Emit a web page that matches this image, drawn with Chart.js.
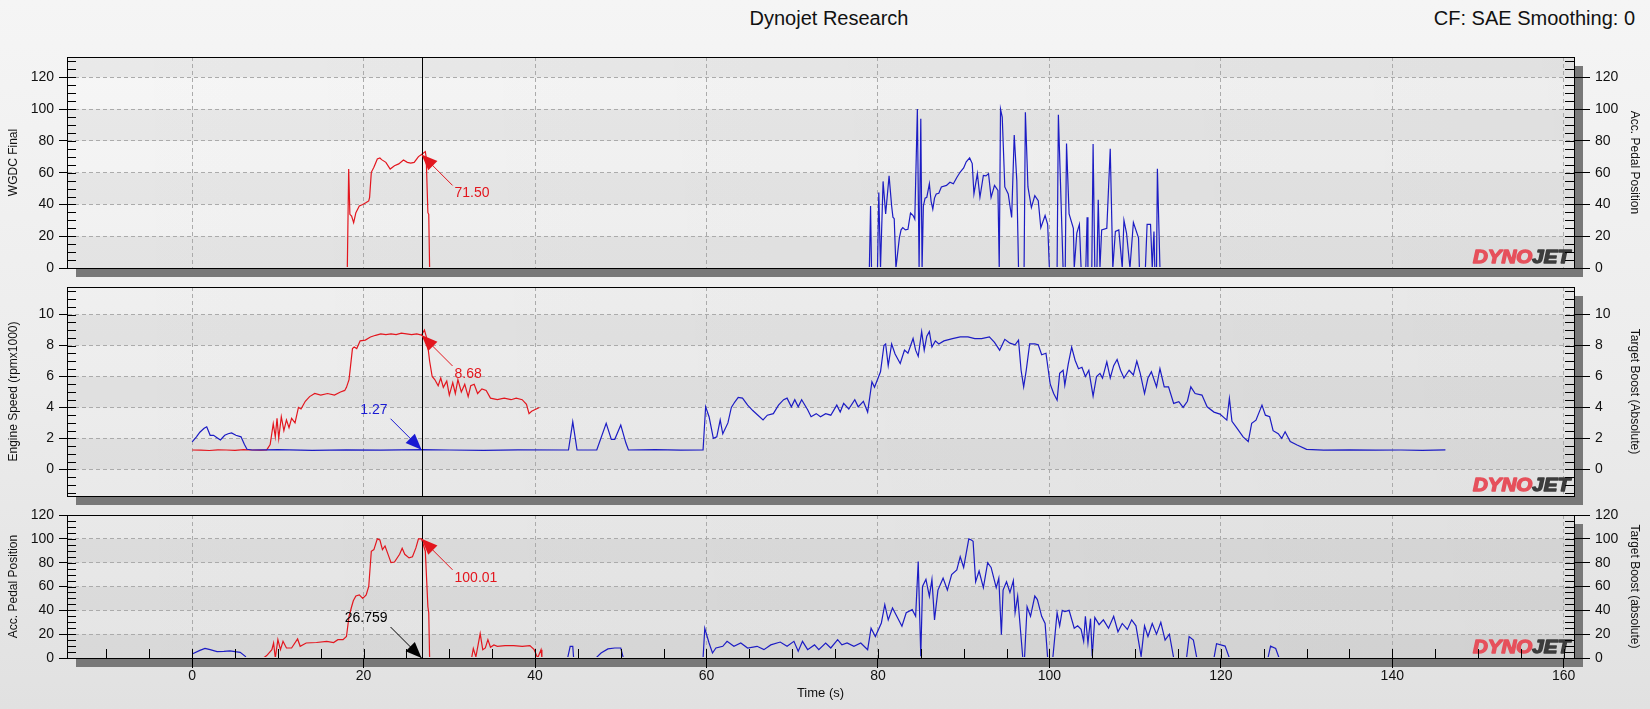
<!DOCTYPE html>
<html>
<head>
<meta charset="utf-8">
<title>Dynojet Research</title>
<script src="https://cdn.jsdelivr.net/npm/chart.js@4.4.1/dist/chart.umd.min.js"></script>
<style>
  html, body { margin: 0; padding: 0; }
  body {
    width: 1650px; height: 709px; overflow: hidden; position: relative;
    background: linear-gradient(to bottom, #f5f5f5 0%, #ececec 55%, #e1e1e1 100%);
    font-family: "Liberation Sans", Arial, sans-serif; color: #111;
  }
  .panel { position: absolute; left: 0; width: 1650px; }
  canvas { display: block; }
  #title { position: absolute; top: 6px; left: 0; width: 1658px; text-align: center; font-size: 20px; line-height: 24px; }
  #cf { position: absolute; top: 6px; right: 15px; font-size: 20px; line-height: 24px; }
</style>
</head>
<body>
<div id="title">Dynojet Research</div>
<div id="cf">CF: SAE Smoothing: 0</div>
<div class="panel" style="top:42px"><canvas id="p1" width="1650" height="241"></canvas></div>
<div class="panel" style="top:272px"><canvas id="p2" width="1650" height="239"></canvas></div>
<div class="panel" style="top:500px"><canvas id="p3" width="1650" height="209"></canvas></div>

<script>
/* DATA */
const cursorT = 26.759;
const xTicks = [0, 20, 40, 60, 80, 100, 120, 140, 160];
const wgdcTicks = [0, 20, 40, 60, 80, 100, 120];
const rpmTicks = [0, 2, 4, 6, 8, 10];
const pedalTicks = [0, 20, 40, 60, 80, 100, 120];

// cursor readouts
const cursorWgdc = 71.50;
const cursorRpm = 8.68;
const cursorBoost = 1.27;
const cursorPedal = 100.01;

// panel 1, red: WGDC Final  [time, value]
const wgdc = [[18.1,0],[18.26,62.3],[18.4,33.8],[18.6,32.7],[18.84,28.5],[19.1,34.8],[19.5,39],[19.9,40],
  [20.3,41.2],[20.6,42.2],[20.7,44.4],[20.9,60.2],[21.2,63.4],[21.6,68.6],[21.9,69.2],[22.1,68.2],[22.6,66.5],
  [23.1,62.3],[23.6,64.4],[24.1,65.5],[24.65,68],[25.1,66.5],[25.5,66],[25.9,66.5],[26.4,70.1],[26.76,71.5],
  [27.2,73.3],[27.3,69.7],[27.5,34.8],[27.6,33.8],[27.7,0]];

// panel 1, blue: Acc. Pedal Position
const pedalTop = [[79.0,0],[79.14,39],[79.25,0],[79.95,0],[80.1,47.5],[80.3,0],[80.6,54.5],[80.9,34],[81.3,58],
  [81.6,39],[81.75,32],[81.9,31],[82.1,0],[82.5,19],[82.7,24],[82.9,25.4],[83.2,24],[83.5,24.4],[83.8,34.6],
  [84.1,33],[84.3,30.7],[84.6,100],[84.8,0],[85.0,94],[85.15,0],[85.3,39],[85.5,44],[85.7,44.5],[86.0,53],
  [86.2,42],[86.4,37],[86.6,44],[86.8,46.6],[87.1,47],[87.4,51],[88.0,52],[88.4,54],[88.8,53],[89.2,57],
  [89.6,60.4],[90.0,63],[90.3,66.8],[90.7,69.3],[91.0,65.7],[91.2,46.6],[91.6,59.4],[91.9,44.5],[92.3,58.3],
  [92.6,58],[92.9,59.4],[93.2,44.5],[93.6,52],[94.0,48.8],[94.15,0],[94.3,100],[94.5,95],[94.8,51],[95.2,46.6],
  [95.6,31.8],[95.9,83.7],[96.2,55],[96.4,0],[97.05,0],[97.2,98],[97.5,51],[97.9,38],[98.3,45.6],[98.7,42.4],
  [99.0,25.4],[99.5,33],[99.8,27.5],[100.0,0],[100.9,0],[101.05,96.5],[101.6,0],[101.85,0],[102.0,78.4],
  [102.3,34],[102.8,25],[102.9,0],[103.2,22],[103.5,27.5],[103.7,0],[104.25,0],[104.4,32],[104.5,0],[104.95,0],
  [105.1,78],[105.3,0],[105.55,0],[105.7,43],[105.9,0],[106.1,24],[106.7,25],[107.1,75],[107.4,0],[107.7,23],
  [108.1,24],[108.5,0],[108.7,30],[109.0,22],[109.4,0],[109.8,28.6],[110.4,19],[110.5,0],[111.2,0],[111.4,27.5],
  [111.8,27.5],[112.0,0],[112.2,23],[112.3,0],[112.5,0],[112.6,62.5],[112.9,0]];

// panel 2, red: Engine Speed (rpm x1000)
const rpm = [[0,1.25],[1,1.24],[2,1.22],[3,1.26],[4,1.25],[5,1.23],[6,1.27],[7,1.25],[8,1.24],[8.7,1.26],
  [9.1,1.6],[9.46,2.95],[9.7,2.1],[9.9,3.3],[10.1,2.0],[10.4,3.4],[10.7,2.5],[11.0,3.2],[11.3,2.7],[11.6,3.3],
  [12.0,3.0],[12.4,4.0],[12.7,3.9],[13.2,4.4],[13.7,4.7],[14.3,4.9],[15.0,4.8],[15.8,4.9],[16.6,4.8],[17.3,5.0],
  [17.8,5.1],[18.0,5.3],[18.3,5.8],[18.7,7.8],[18.9,7.9],[19.2,7.8],[19.6,8.3],[20.2,8.35],[20.8,8.55],
  [21.4,8.66],[22.0,8.75],[22.6,8.7],[23.2,8.75],[23.8,8.7],[24.4,8.8],[25.0,8.75],[25.6,8.7],[26.2,8.75],
  [26.76,8.68],[27.1,9.0],[27.4,8.4],[27.7,7.0],[28.0,6.0],[28.3,5.8],[28.7,5.4],[29.0,5.9],[29.3,5.3],
  [29.7,5.7],[30.0,4.8],[30.4,5.6],[30.7,4.9],[31.0,5.8],[31.4,5.0],[31.8,5.5],[32.2,4.7],[32.5,5.4],
  [32.9,5.5],[33.3,4.9],[33.8,5.2],[34.3,5.1],[34.8,4.6],[35.6,4.5],[36.4,4.6],[37.2,4.5],[37.8,4.6],
  [38.5,4.5],[39.0,4.2],[39.3,3.6],[39.6,3.75],[40.5,4.0]];

// panel 2, blue: Target Boost (Absolute)
const boostMid = [[0,1.78],[0.5,2.1],[0.9,2.4],[1.4,2.65],[1.7,2.75],[2.1,2.2],[2.5,2.2],[2.9,2.05],[3.3,1.9],
  [3.8,2.2],[4.2,2.3],[4.6,2.35],[5.1,2.2],[5.7,2.1],[6.1,1.6],[6.4,1.3],[7,1.25],[10,1.27],[14,1.23],[18,1.26],
  [22,1.24],[26.76,1.27],[30,1.25],[34,1.23],[38,1.26],[43.9,1.25],[44.4,3.07],[44.9,1.25],[47.2,1.25],
  [48.3,2.97],[48.9,1.94],[49.3,1.94],[50.0,2.86],[50.6,1.7],[50.9,1.25],[54,1.27],[57,1.24],[59.6,1.25],
  [59.9,4.04],[60.3,3.4],[60.8,2.0],[61.2,2.1],[61.6,3.2],[61.9,2.3],[62.5,3.0],[62.9,4.0],[63.3,4.35],
  [63.7,4.65],[64.2,4.6],[64.8,4.15],[65.4,3.8],[66.0,3.5],[66.6,3.2],[67.1,3.5],[67.8,3.6],[68.4,4.15],
  [69.0,4.5],[69.4,4.6],[69.9,4.04],[70.3,4.5],[70.7,4.04],[71.1,4.5],[71.8,3.85],[72.2,3.4],[72.8,3.6],
  [73.3,3.4],[73.9,3.6],[74.5,3.5],[75.2,4.15],[75.6,3.7],[76.0,4.26],[76.6,3.9],[77.3,4.5],[77.7,4.04],
  [78.3,4.4],[78.8,3.7],[79.3,5.66],[79.6,5.3],[80.3,6.3],[80.7,8.0],[80.9,8.1],[81.2,6.7],[81.6,8.1],
  [82.0,7.45],[82.6,6.84],[83.1,7.7],[83.5,7.5],[84.1,8.45],[84.4,7.7],[84.7,7.3],[85.1,8.9],[85.4,7.7],
  [85.7,8.6],[86.0,8.9],[86.3,7.9],[86.7,8.3],[87.1,8.1],[87.7,8.3],[88.7,8.45],[89.6,8.56],[90.5,8.56],
  [91.3,8.45],[92.1,8.45],[93.0,8.56],[93.6,8.2],[94.2,7.7],[94.8,8.4],[95.4,8.15],[96.0,8.05],[96.4,8.35],
  [96.7,6.4],[97.0,5.33],[97.3,6.4],[97.7,8.1],[98.3,8.1],[98.7,8.05],[99.1,7.4],[99.6,7.5],[100.1,5.5],
  [100.5,4.9],[100.9,4.47],[101.2,6.2],[101.6,6.4],[101.8,5.44],[102.2,6.8],[102.6,7.9],[103.0,7.05],
  [103.4,6.5],[103.8,6.6],[104.2,6.0],[104.6,6.4],[105.1,4.73],[105.5,6.0],[105.9,6.2],[106.2,5.9],
  [106.7,6.95],[107.1,5.9],[107.5,6.7],[107.9,7.1],[108.3,6.4],[108.7,5.9],[109.3,6.4],[109.8,6.1],
  [110.2,7.0],[110.6,6.2],[111.1,4.9],[111.5,5.9],[111.9,6.3],[112.5,5.33],[112.9,6.5],[113.4,5.33],
  [113.9,5.33],[114.5,4.26],[115.1,4.37],[115.6,4.0],[116.1,4.4],[116.5,5.33],[117.0,4.9],[117.8,4.8],
  [118.4,4.04],[119.2,3.7],[119.9,3.57],[120.7,3.18],[121.0,4.58],[121.3,3.1],[121.9,2.65],[122.6,2.1],
  [123.2,1.8],[123.6,2.97],[124.1,3.18],[124.8,4.15],[125.2,3.5],[125.7,3.4],[126.1,2.5],[126.7,2.3],
  [127.1,2.0],[127.5,2.43],[128.1,1.8],[128.9,1.57],[130.0,1.29],[132,1.24],[135,1.26],[138,1.24],
  [141,1.25],[143.5,1.23],[146.2,1.26]];

// panel 3, red: Acc. Pedal Position
const pedal = [[8.3,0],[8.7,2],[9.3,7],[9.5,12.6],[9.7,0],[10.0,15.4],[10.3,7],[10.6,14],[11.0,8.4],[11.6,8.4],
  [12.3,16],[12.6,9.8],[13.3,12.6],[14.5,13],[15.7,14],[16.5,13],[17.0,15.4],[17.6,15.4],[18.0,18],[18.3,35],
  [18.6,43],[18.8,48],[19.1,52],[19.5,53],[19.9,50],[20.3,53],[20.6,60],[20.9,89.6],[21.2,91],[21.6,100],
  [21.9,99],[22.2,91],[22.5,94],[22.8,88],[23.2,80],[23.6,80.5],[24.2,87],[24.5,92],[24.8,87],[25.3,84],
  [25.7,85],[26.1,92.4],[26.4,100],[26.76,100],[27.2,89.6],[27.5,43],[27.6,38],[27.7,0],[32.6,0],[32.8,8],
  [33.1,1],[33.6,20.5],[33.9,7],[34.2,8.4],[34.5,15.4],[34.8,9],[35.2,11],[35.6,9.8],[36.5,10.4],[37.5,10.4],
  [38.5,9.8],[39.4,10.4],[39.9,7],[40.3,0],[40.7,7],[40.8,0]];

// panel 3, blue: Target Boost (absolute)
const boostLow = [[0,3.4],[0.9,6.4],[1.5,8],[2.1,7],[2.9,5.3],[3.7,5.6],[4.4,6],[5.0,5.3],[5.6,4.8],[6.2,1.4],
  [6.3,0],[43.8,0],[44.1,9.8],[44.4,9.8],[44.5,0],[47.1,0],[47.7,4.2],[48.5,7.6],[49.3,8.4],[50.0,8.4],[50.3,0],
  [59.6,0],[59.8,25],[60.3,12.6],[60.7,4.2],[61.1,8.4],[61.9,9.8],[62.4,14],[63.2,9.8],[64.0,12.6],[64.8,8.4],
  [65.9,9.8],[66.7,7],[67.5,11],[68.6,13.4],[69.4,9.8],[70.2,14],[70.7,5.6],[71.2,14],[71.8,7],[72.6,11],
  [73.1,7],[73.9,12.6],[74.5,8.4],[75.3,15.4],[75.8,11],[76.4,12.6],[77.2,9.8],[78.0,12.6],[78.8,7],[79.2,25],
  [79.7,18],[80.4,29.4],[80.8,44.8],[81.2,32],[81.7,42],[82.2,35],[82.8,26.6],[83.3,38],[84.0,40.6],[84.4,35],
  [84.7,81],[85.0,1.4],[85.2,60],[85.6,66],[86.0,51.8],[86.3,66],[86.6,32],[87.0,57],[87.6,67],[88.1,57],
  [88.6,70],[89.2,74],[89.6,85],[90.0,76],[90.6,100],[90.9,99],[91.1,98],[91.4,64],[91.8,73],[92.3,59],
  [92.8,80],[93.2,76],[93.8,59],[94.1,67],[94.4,19.6],[94.6,57],[95.0,64],[95.4,55],[95.8,65],[96.0,38],
  [96.3,52],[96.9,0],[97.1,0],[97.4,43],[97.8,35],[98.3,52],[98.6,49],[99.1,35],[99.5,29],[99.8,0],[100.4,0],
  [100.9,38],[101.2,27],[101.5,40],[101.8,39],[102.3,40],[102.9,25],[103.3,27],[103.7,24],[104.0,14],
  [104.2,35],[104.5,12.6],[104.8,33],[105.0,1.4],[105.3,34],[105.8,28],[106.3,32],[106.9,25],[107.5,35],
  [108.0,22],[108.5,29],[109.1,24],[109.6,32],[110.1,27],[110.7,1.4],[111.1,27],[111.5,18],[112.0,29],
  [112.5,20],[113.0,30],[113.5,15],[114.0,20],[114.5,0],[116.0,0],[116.3,18],[116.8,15],[117.2,0],[119.2,0],
  [119.5,12],[120.5,10],[121.0,0],[125.5,0],[125.8,10],[126.4,8],[126.8,0],[146.2,0]];

/* STYLE */
const RED = '#e3161e';
const BLUE = '#1c1cc4';
const GRID = '#ababab';
Chart.defaults.font.family = '"Liberation Sans", Arial, sans-serif';
Chart.defaults.color = '#111';

const pts = arr => arr.map(([x, y]) => ({x, y}));

/* PLUGINS */
// shadow, plot fill and alternating bands
const panelBg = {
  id: 'panelBg',
  beforeDraw(chart, args, opts) {
    const {ctx, chartArea: a} = chart;
    const ys = chart.scales.y;
    ctx.save();
    ctx.fillStyle = '#787878';
    ctx.fillRect(a.left + 9, a.top + 9, a.width, a.height);
    const g = ctx.createLinearGradient(0, -opts.pageTop, 0, 709 - opts.pageTop);
    g.addColorStop(0, '#f8f8f8');
    g.addColorStop(1, '#e3e3e3');
    ctx.fillStyle = g;
    ctx.fillRect(a.left, a.top, a.width, a.height);
    const h = ctx.createLinearGradient(a.left, 0, a.right, 0);
    h.addColorStop(0, 'rgba(0,0,0,0)');
    h.addColorStop(1, 'rgba(0,0,0,0.035)');
    ctx.fillStyle = h;
    ctx.fillRect(a.left, a.top, a.width, a.height);
    ctx.fillStyle = 'rgba(0,0,0,0.05)';
    for (let i = 0; i * opts.band < ys.max; i += 2) {
      const y0 = ys.getPixelForValue(i * opts.band);
      const y1 = ys.getPixelForValue(Math.min((i + 1) * opts.band, ys.max));
      ctx.fillRect(a.left, y1, a.width, y0 - y1);
    }
    ctx.restore();
  }
};

const logo = {
  id: 'logo',
  beforeDatasetsDraw(chart) {
    const {ctx, chartArea: a} = chart;
    ctx.save();
    ctx.font = 'italic bold 19px "Liberation Sans", Arial, sans-serif';
    const w1 = ctx.measureText('DYNO').width;
    const w2 = ctx.measureText('JET').width;
    const k = 97 / (w1 + w2);
    ctx.translate(a.right - 4 - 97, a.bottom - 5);
    ctx.scale(k, 1);
    ctx.textBaseline = 'alphabetic';
    ctx.lineWidth = 1.4;
    ctx.lineJoin = 'round';
    ctx.fillStyle = ctx.strokeStyle = '#e6505b';
    ctx.strokeText('DYNO', 0, 0);
    ctx.fillText('DYNO', 0, 0);
    ctx.fillStyle = ctx.strokeStyle = '#3c3c3c';
    ctx.strokeText('JET', w1, 0);
    ctx.fillText('JET', w1, 0);
    ctx.restore();
  }
};

// inner tick marks, plot frame and the cursor line
const frame = {
  id: 'frame',
  afterDraw(chart, args, opts) {
    const {ctx, chartArea: a, scales} = chart;
    const ys = scales.y, xs = scales.x;
    ctx.save();
    ctx.strokeStyle = '#000';
    ctx.lineWidth = 1;
    ctx.beginPath();
    const n0 = Math.ceil(ys.min / opts.yStep - 1e-9), n1 = Math.floor(ys.max / opts.yStep + 1e-9);
    for (let i = n0; i <= n1; i++) {
      const p = Math.round(ys.getPixelForValue(i * opts.yStep)) + 0.5;
      ctx.moveTo(a.left, p); ctx.lineTo(a.left + 9, p);
      ctx.moveTo(a.right - 9, p); ctx.lineTo(a.right, p);
    }
    if (opts.xStep) {
      const m0 = Math.ceil(xs.min / opts.xStep), m1 = Math.floor(xs.max / opts.xStep);
      for (let i = m0; i <= m1; i++) {
        const p = Math.round(xs.getPixelForValue(i * opts.xStep)) + 0.5;
        ctx.moveTo(p, a.bottom); ctx.lineTo(p, a.bottom - 9);
      }
    }
    const cx = Math.round(xs.getPixelForValue(cursorT)) + 0.5;
    ctx.moveTo(cx, a.top); ctx.lineTo(cx, a.bottom);
    ctx.stroke();
    ctx.strokeRect(Math.round(a.left) + 0.5, Math.round(a.top) + 0.5, Math.round(a.width), Math.round(a.height));
    ctx.restore();
  }
};

// value call-outs at the cursor
const notes = {
  id: 'notes',
  afterDraw(chart, args, opts) {
    const {ctx} = chart;
    const px = chart.scales.x.getPixelForValue(cursorT);
    (opts.items || []).forEach(n => {
      const py = chart.scales[n.axis].getPixelForValue(n.value);
      const s = n.dir === 'se' ? 1 : -1;
      const d = s / Math.SQRT2;
      ctx.save();
      ctx.strokeStyle = n.color;
      ctx.fillStyle = n.color;
      ctx.lineWidth = 1;
      ctx.beginPath();
      ctx.moveTo(px, py);
      ctx.lineTo(px + s * 31, py + s * 31);
      ctx.stroke();
      const bx = px + d * 16, by = py + d * 16, w = 6.5 / Math.SQRT2;
      ctx.beginPath();
      ctx.moveTo(px, py);
      ctx.lineTo(bx - w, by + w);
      ctx.lineTo(bx + w, by - w);
      ctx.closePath();
      ctx.fill();
      ctx.font = '14px "Liberation Sans", Arial, sans-serif';
      ctx.textBaseline = 'middle';
      if (s > 0) {
        ctx.textAlign = 'left';
        ctx.fillText(n.text, px + 33, py + 39);
      } else {
        ctx.textAlign = 'right';
        ctx.fillText(n.text, px - 34, py - 40);
      }
      ctx.restore();
    });
  }
};

/* AXES */
function yAxis(pos, min, max, ticks, title) {
  const left = pos === 'left';
  return {
    type: 'linear', position: pos, min, max,
    afterBuildTicks: s => { s.ticks = ticks.map(v => ({value: v})); },
    afterFit: s => { s.width = left ? 67 : 76; },
    ticks: {padding: 5, color: '#111', font: {size: 14}},
    grid: {drawOnChartArea: left, color: GRID, lineWidth: 1, drawTicks: true,
           tickLength: left ? 8 : 16, tickColor: '#000'},
    border: {display: true, color: '#000', width: 1, dash: [4, 3]},
    title: {display: true, text: title, color: '#111', font: {size: 12},
            padding: {top: left ? 6 : 8, bottom: 0}}
  };
}

function xAxis(showLabels) {
  return {
    type: 'linear', min: -14.6, max: 161.2,
    afterBuildTicks: s => { s.ticks = xTicks.map(v => ({value: v})); },
    afterFit: s => { s.height = showLabels ? 51 : 0; },
    ticks: {display: showLabels, padding: 0, maxRotation: 0, autoSkip: false, color: '#111', font: {size: 14}},
    grid: {color: GRID, lineWidth: 1, drawTicks: showLabels, tickLength: 10, tickColor: '#000'},
    border: {display: true, color: '#000', width: 1, dash: [4, 3]},
    title: {display: showLabels, text: 'Time (s)', color: '#111', font: {size: 13},
            padding: {top: 0, bottom: 8}}
  };
}

function line(data, color, axis) {
  return {data: pts(data), borderColor: color, borderWidth: 1.2, pointRadius: 0,
          tension: 0, fill: false, yAxisID: axis,
          clip: {left: 0, top: 0, right: 0, bottom: -1}};
}

function panel(id, pageTop, padBottom, datasets, yl, yr, showX, band, yStep, items) {
  return new Chart(document.getElementById(id), {
    type: 'line',
    data: {datasets},
    options: {
      responsive: false, animation: false, devicePixelRatio: 1, events: [],
      layout: {padding: {top: 15, bottom: padBottom, left: 0, right: 0}},
      scales: {x: xAxis(showX), y: yl, y2: yr},
      plugins: {
        legend: {display: false}, tooltip: {enabled: false},
        panelBg: {pageTop, band},
        frame: {yStep, xStep: showX ? 5 : 0},
        notes: {items}
      }
    },
    plugins: [panelBg, logo, frame, notes]
  });
}

/* PANELS */
panel('p1', 42, 15,
  [line(wgdc, RED, 'y'), line(pedalTop, BLUE, 'y2')],
  yAxis('left', 0, 132.8, wgdcTicks, 'WGDC Final'),
  yAxis('right', 0, 132.8, wgdcTicks, 'Acc. Pedal Position'),
  false, 20, 5,
  [{axis: 'y', value: cursorWgdc, text: cursorWgdc.toFixed(2), color: RED, dir: 'se'}]);

panel('p2', 272, 15,
  [line(boostMid, BLUE, 'y2'), line(rpm, RED, 'y')],
  yAxis('left', -1.72, 11.78, rpmTicks, 'Engine Speed (rpmx1000)'),
  yAxis('right', -1.72, 11.78, rpmTicks, 'Target Boost (Absolute)'),
  false, 2, 0.5,
  [{axis: 'y', value: cursorRpm, text: cursorRpm.toFixed(2), color: RED, dir: 'se'},
   {axis: 'y2', value: cursorBoost, text: cursorBoost.toFixed(2), color: '#1a1ad2', dir: 'nw'}]);

panel('p3', 500, 0,
  [line(boostLow, BLUE, 'y2'), line(pedal, RED, 'y')],
  yAxis('left', 0, 120, pedalTicks, 'Acc. Pedal Position'),
  yAxis('right', 0, 120, pedalTicks, 'Target Boost (absolute)'),
  true, 20, 5,
  [{axis: 'y', value: cursorPedal, text: cursorPedal.toFixed(2), color: RED, dir: 'se'},
   {axis: 'y', value: 0, text: cursorT.toFixed(3), color: '#000', dir: 'nw'}]);
</script>
</body>
</html>
